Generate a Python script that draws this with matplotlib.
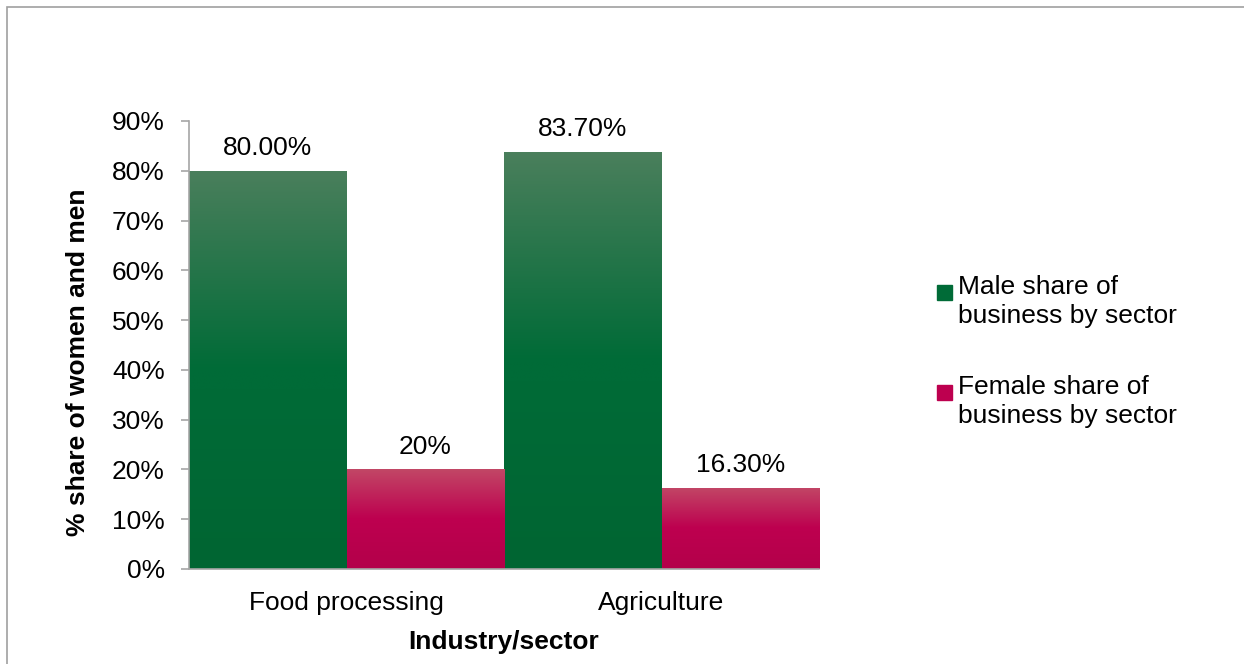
import matplotlib.pyplot as plt
import numpy as np
from matplotlib.colors import LinearSegmentedColormap
from matplotlib.patches import Rectangle

plt.rcParams['font.family'] = ['Liberation Sans', 'DejaVu Sans']

sectors = ['Food processing', 'Agriculture']
male_share = [80.0, 83.7]
female_share = [20.0, 16.3]
male_labels = ['80.00%', '83.70%']
female_labels = ['20%', '16.30%']
series_names = ['Male share of\nbusiness by sector', 'Female share of\nbusiness by sector']

# gradient stops: top, middle, bottom
green_stops = ['#4a7f5c', '#006b37', '#006532']
pink_stops = ['#c24766', '#bd004f', '#b3004a']

FS = 19

fig = plt.figure(figsize=(12.44, 6.64), dpi=100)
ax = fig.add_axes([189 / 1244, 1 - 569 / 664, 630 / 1244, 448 / 664])

x = np.arange(len(sectors))
w = 0.5


def gradient_bars(xs, heights, stops):
    bars = ax.bar(xs, heights, width=w, color=stops[1], linewidth=0, zorder=2)
    cmap = LinearSegmentedColormap.from_list(
        'g', [(0.0, stops[2]), (0.45, stops[1]), (0.5, stops[1]), (1.0, stops[0])], N=256)
    grad = np.linspace(0, 1, 256).reshape(-1, 1)
    for b in bars:
        x0, y0 = b.get_x(), b.get_y()
        im = ax.imshow(grad, cmap=cmap, origin='lower', aspect='auto',
                       extent=[x0, x0 + b.get_width(), y0, y0 + b.get_height()],
                       zorder=2.5, interpolation='bilinear')
        im.set_clip_path(b)
    return bars


gradient_bars(x - w / 2, male_share, green_stops)
gradient_bars(x + w / 2, female_share, pink_stops)

for i in range(len(sectors)):
    ax.text(x[i] - w / 2, male_share[i] + 3.2, male_labels[i], ha='center', va='baseline',
            fontsize=FS)
    ax.text(x[i] + w / 2, female_share[i] + 3.2, female_labels[i], ha='center', va='baseline',
            fontsize=FS)

ax.set_xlim(-0.5, 1.5)
ax.set_ylim(0, 90)
ax.set_yticks(np.arange(0, 91, 10))
ax.set_yticklabels([f'{v}%' for v in range(0, 91, 10)], fontsize=FS)
ax.set_xticks(x)
ax.set_xticklabels(sectors, fontsize=FS)
ax.tick_params(axis='x', length=0, pad=16)
ax.tick_params(axis='y', length=5.5, width=1.2, color='#a6a6a6', pad=12)

for side in ['top', 'right']:
    ax.spines[side].set_visible(False)
for side in ['left', 'bottom']:
    ax.spines[side].set_color('#a6a6a6')
    ax.spines[side].set_linewidth(1.2)
    ax.spines[side].set_zorder(3)

ax.set_xlabel('Industry/sector', fontsize=FS, fontweight='bold', labelpad=11)
ax.set_ylabel('% share of women and men', fontsize=FS, fontweight='bold')
ax.yaxis.set_label_coords((90 - 189) / 630, (569 - 362) / 448)

# legend, marker aligned with the first line of each entry
legend_rows = [292, 392]
for name, stops, ypix in zip(series_names, [green_stops, pink_stops], legend_rows):
    fig.patches.append(Rectangle((937 / 1244, 1 - (ypix + 8) / 664), 15 / 1244, 15 / 664,
                                 transform=fig.transFigure, color=stops[1]))
    fig.text(958 / 1244, 1 - (ypix - 17) / 664, name, fontsize=FS, va='top', ha='left',
             linespacing=1.28)

# chart border
fig.patches.append(Rectangle((7 / 1244, -0.1), 1.2, 1.1 - 7 / 664, transform=fig.transFigure,
                             fill=False, edgecolor='#a0a0a0', linewidth=1.2))

fig.savefig('out.png', dpi=100)
